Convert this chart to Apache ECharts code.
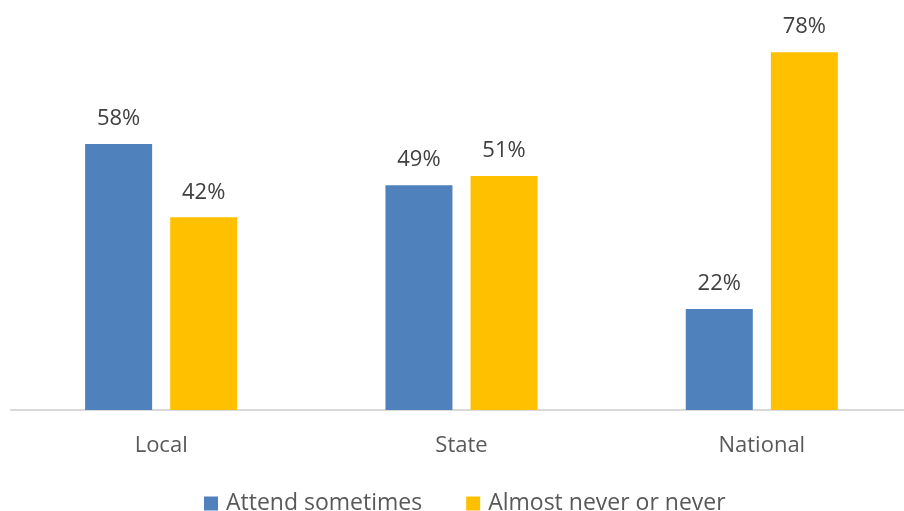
<!DOCTYPE html>
<html>
<head>
<meta charset="utf-8">
<script src="https://cdn.jsdelivr.net/npm/echarts@6/dist/echarts.min.js"></script>
<style>
  html, body { margin: 0; padding: 0; background: #fff; overflow: hidden; }
  #chart { width: 912px; height: 511px; }
</style>
</head>
<body>
<div id="chart"></div>
<script>
// data
const categories = ['Local', 'State', 'National'];
const attendSometimes = [58, 49, 22];
const almostNever = [42, 51, 78];
const seriesNames = ['Attend sometimes', 'Almost never or never'];

const FONT = '"Open Sans", "Noto Sans", sans-serif';
const labelStyle = {
  show: true,
  position: 'top',
  distance: 14,
  formatter: '{c}%',
  fontSize: 22,
  color: '#404040',
  fontFamily: FONT
};

// canvas is a little wider than the window: the original plot area runs past the right edge
const chart = echarts.init(document.getElementById('chart'), null, { renderer: 'canvas' });
chart.setOption({
  animation: false,
  grid: { left: 11, top: 43, right: 0, bottom: 101, containLabel: false },
  legend: {
    data: seriesNames,
    top: 487,
    left: 199,
    itemWidth: 14,
    itemHeight: 14,
    itemGap: 44,
    icon: 'rect',
    textStyle: { fontSize: 23, color: '#595959', fontFamily: FONT, padding: [0, 0, 0, 3] }
  },
  xAxis: {
    type: 'category',
    data: categories,
    axisLine: { lineStyle: { color: '#d9d9d9', width: 2 } },
    axisTick: { show: false },
    axisLabel: { fontSize: 22, color: '#595959', fontFamily: FONT, margin: 25 }
  },
  yAxis: {
    type: 'value',
    min: 0,
    max: 80,
    show: false,
    splitLine: { show: false }
  },
  series: [
    {
      name: seriesNames[0],
      type: 'bar',
      data: attendSometimes,
      itemStyle: { color: '#4f81bd' },
      barWidth: 67,
      barGap: '27%',
      label: labelStyle
    },
    {
      name: seriesNames[1],
      type: 'bar',
      data: almostNever,
      itemStyle: { color: '#ffc000' },
      barWidth: 67,
      label: labelStyle
    }
  ]
});
</script>
</body>
</html>
